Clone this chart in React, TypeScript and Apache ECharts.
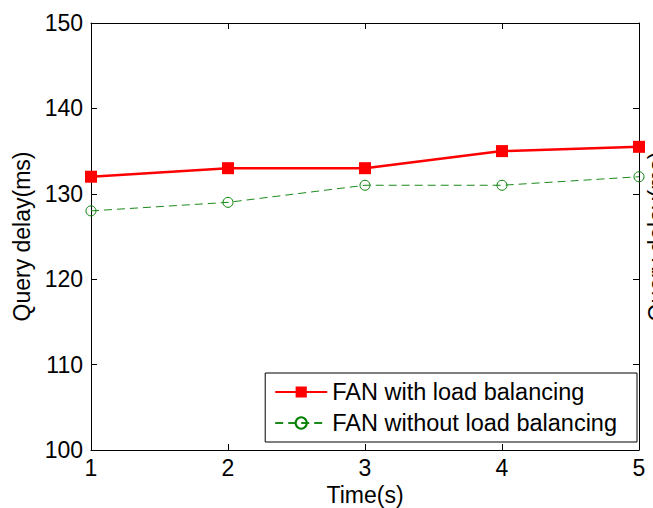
import React, { useEffect, useRef } from "react";
import * as echarts from "echarts";

const times = [1, 2, 3, 4, 5];
const withLB = [132, 133, 133, 135, 135.5];
const withoutLB = [128, 129, 131, 131, 132];
const seriesNames = ["FAN with load balancing", "FAN without load balancing"];
const yTitle = "Query delay(ms)";
const xTitle = "Time(s)";

const FONT = "Liberation Sans, Arial, sans-serif";
const FS = 23;

export default function App() {
  const ref = useRef<HTMLDivElement>(null);
  useEffect(() => {
    if (!ref.current) return;
    const chart = echarts.init(ref.current, undefined, { renderer: "svg" });
    const axisLine = { show: true, lineStyle: { color: "#000", width: 1 } };
    const tick = { show: true, inside: true, length: 6, lineStyle: { color: "#000", width: 1 } };
    chart.setOption({
      animation: false,
      backgroundColor: "#fff",
      textStyle: { fontFamily: FONT },
      grid: { left: 91, right: 14, top: 23, bottom: 58, containLabel: false, outerBoundsMode: "none" },
      legend: {
        right: 16,
        top: 373,
        orient: "vertical",
        backgroundColor: "#fff",
        borderColor: "#000",
        borderWidth: 1,
        borderRadius: 0,
        padding: [7, 20, 7, 9],
        itemWidth: 52,
        itemHeight: 14,
        itemGap: 7,
        textStyle: { fontFamily: FONT, fontSize: 23.5, color: "#000" },
        data: seriesNames,
      },
      xAxis: [
        {
          type: "value",
          min: 1,
          max: 5,
          interval: 1,
          name: xTitle,
          nameLocation: "middle",
          nameGap: 32,
          nameTextStyle: { fontFamily: FONT, fontSize: FS, color: "#000" },
          axisLine,
          axisTick: tick,
          axisLabel: { fontFamily: FONT, fontSize: FS, color: "#000", margin: 6 },
          splitLine: { show: false },
        },
        {
          type: "value",
          position: "top",
          min: 1,
          max: 5,
          interval: 1,
          axisLine,
          axisTick: tick,
          axisLabel: { show: false },
          splitLine: { show: false },
        },
      ],
      yAxis: [
        {
          type: "value",
          min: 100,
          max: 150,
          interval: 10,
          name: yTitle,
          nameLocation: "middle",
          nameGap: 57,
          nameTextStyle: { fontFamily: FONT, fontSize: FS, color: "#000" },
          axisLine,
          axisTick: tick,
          axisLabel: { fontFamily: FONT, fontSize: FS, color: "#000", margin: 8 },
          splitLine: { show: false },
        },
        {
          type: "value",
          position: "right",
          min: 100,
          max: 150,
          interval: 10,
          name: yTitle,
          nameLocation: "middle",
          nameGap: 6,
          nameTextStyle: { fontFamily: FONT, fontSize: FS, color: "#000" },
          axisLine,
          axisTick: tick,
          axisLabel: { show: false },
          splitLine: { show: false },
        },
      ],
      series: [
        {
          name: seriesNames[0],
          type: "line",
          data: times.map((t, i) => [t, withLB[i]]),
          symbol: "rect",
          symbolSize: 12,
          lineStyle: { color: "#ff0000", width: 2.5 },
          itemStyle: { color: "#ff0000" },
          z: 3,
        },
        {
          name: seriesNames[1],
          type: "line",
          data: times.map((t, i) => [t, withoutLB[i]]),
          symbol: "circle",
          symbolSize: 10,
          lineStyle: { color: "#1a8a1a", width: 1, type: [8, 5] },
          itemStyle: { color: "rgba(255,255,255,0)", borderColor: "#008000", borderWidth: 1 },
          z: 2,
        },
      ],
    });
    return () => chart.dispose();
  }, []);
  return (
    <div
      ref={ref}
      style={{ position: "fixed", left: 0, top: 0, width: 653, height: 508 }}
    />
  );
}
